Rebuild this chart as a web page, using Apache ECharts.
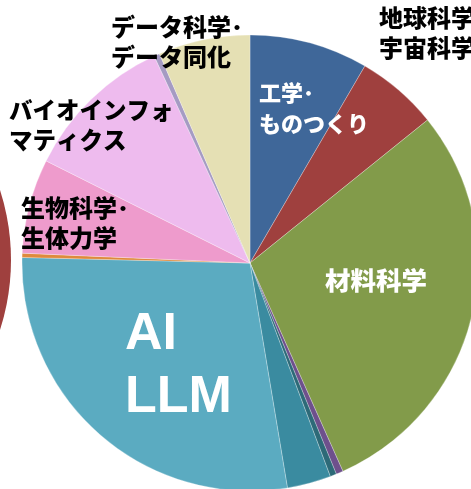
<!DOCTYPE html>
<html>
<head>
<meta charset="utf-8">
<script src="https://cdn.jsdelivr.net/npm/echarts@6/dist/echarts.min.js"></script>
<style>
  html, body { margin: 0; padding: 0; background: #fff; }
  #chart { width: 471px; height: 489px; }
</style>
</head>
<body>
<div id="chart"></div>
<script>
// 分野別の割合 (%)、12時の位置から時計回り
const sliceNames = [
  "工学・ものつくり", "地球科学・宇宙科学", "材料科学", "その他A", "その他B",
  "その他C", "AI LLM", "その他D", "生物科学・生体力学",
  "バイオインフォマティクス", "その他E", "データ科学・データ同化"
];
const sliceValues = [8.4, 5.8, 29.1, 0.5, 0.45, 3.1, 28.0, 0.3, 6.7, 10.7, 0.4, 6.5];
const sliceColors = [
  "#3F6799", "#9F403E", "#829B4A", "#6E508C", "#2D6A78",
  "#3A8BA0", "#5BABC1", "#DE8A3C", "#EE9BCC",
  "#EEBBEE", "#A59BC3", "#E5E0B4"
];
// 隣の円グラフ (左端に一部のみ見える)
const neighbourValues = [1];

document.addEventListener("DOMContentLoaded", function () {
  const chart = echarts.init(document.getElementById("chart"));
  const jp = '"Noto Sans CJK JP", sans-serif';

  function label(text, x, y, size, color, lh, family) {
    return {
      type: "text",
      x: x,
      y: y,
      silent: true,
      z: 100,
      style: {
        text: text,
        fill: color,
        fontSize: size,
        fontWeight: 900,
        fontFamily: family || jp,
        lineHeight: lh,
        verticalAlign: "top",
        align: "left",
      },
    };
  }

  const option = {
    animation: false,
    backgroundColor: "#fff",
    series: [
      {
        type: "pie",
        silent: true,
        center: [250, 263],
        radius: 228,
        startAngle: 90,
        clockwise: true,
        minAngle: 0,
        label: { show: false },
        labelLine: { show: false },
        itemStyle: {
          borderColor: "rgba(255,255,255,0.45)",
          borderWidth: 0.6,
        },
        data: sliceNames.map(function (n, i) {
          return { name: n, value: sliceValues[i], itemStyle: { color: sliceColors[i] } };
        }),
      },
      {
        type: "pie",
        silent: true,
        center: [-217, 260],
        radius: 228,
        label: { show: false },
        labelLine: { show: false },
        data: neighbourValues.map(function (v) {
          return { value: v, itemStyle: { color: "#9F403E" } };
        }),
      },
    ],
    graphic: [
      label("データ科学･\nデータ同化", 111, 12, 24, "#000", 30),
      label("地球科学･\n宇宙科学", 379, 3, 24, "#000", 30),
      label("工学･\nものつくり", 259, 77, 22, "#fff", 31),
      label("バイオインフォ\nマティクス", 9, 95, 23.5, "#000", 30),
      label("生物科学･\n生体力学", 21, 193, 24, "#000", 30),
      label("材料科学", 325, 265, 25.5, "#fff", 30),
      label("AI\nLLM", 125, 303, 52, "#fff", 63, '"Liberation Sans", Arial, sans-serif'),
    ],
  };
  chart.setOption(option);
  window.addEventListener("resize", function () {
    chart.resize();
  });
});
</script>
</body>
</html>
